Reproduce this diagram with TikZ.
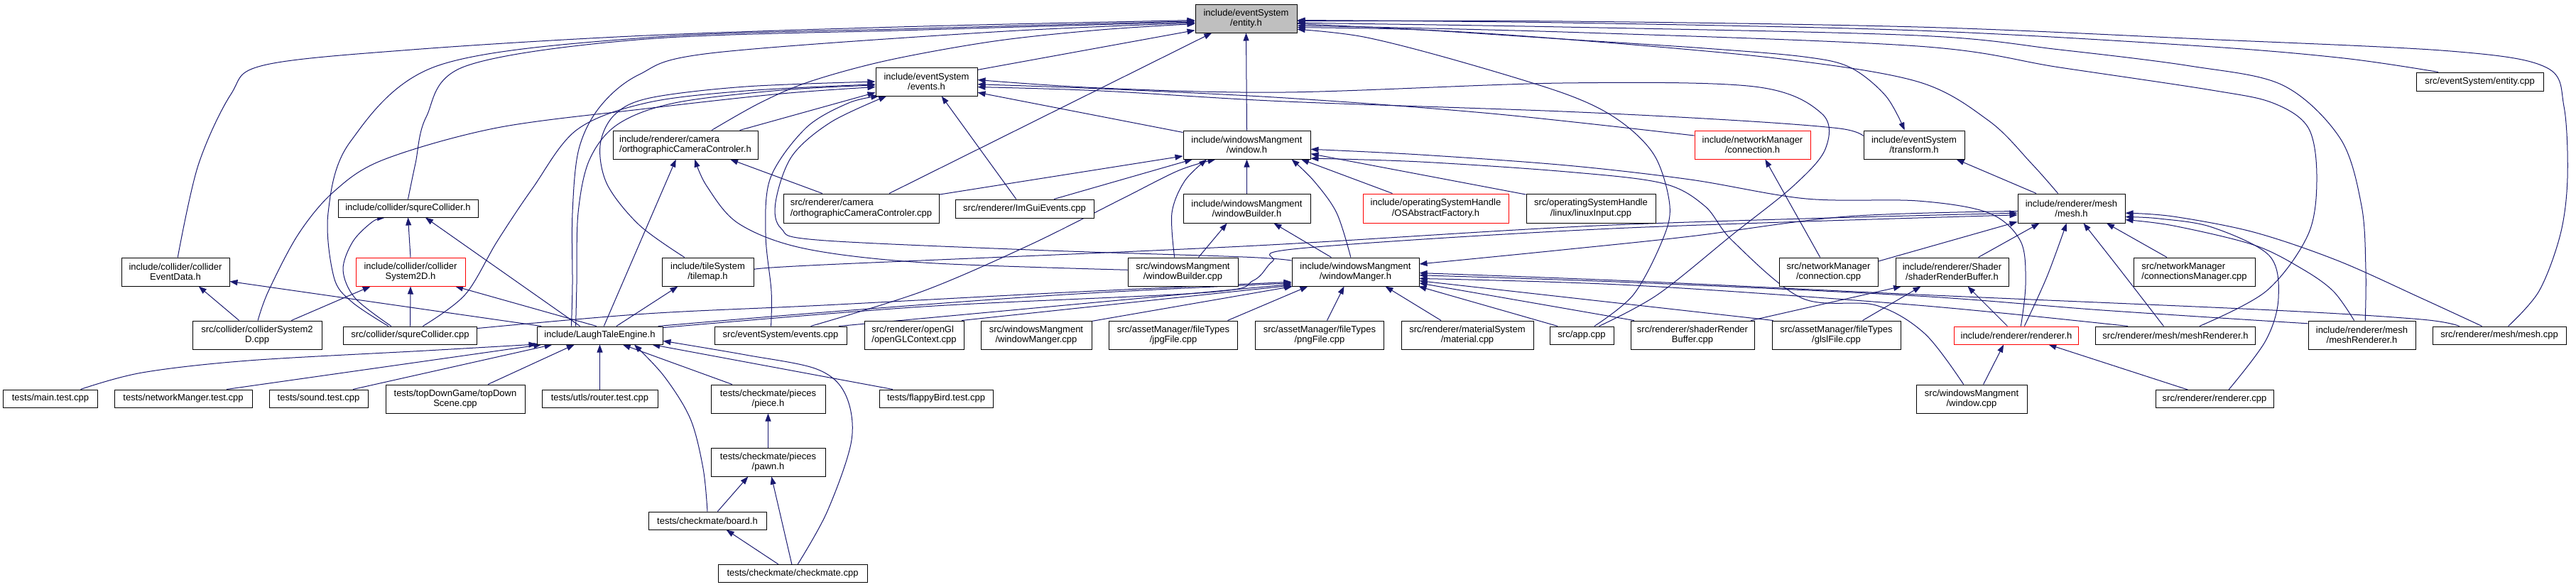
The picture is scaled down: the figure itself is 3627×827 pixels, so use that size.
\documentclass[tikz,border=0pt]{standalone}
\usepackage{fontspec}
\setmainfont{Liberation Sans}
\usetikzlibrary{arrows.meta}
\pgfdeclarelayer{bg}
\pgfsetlayers{bg,main}
\definecolor{edgecol}{RGB}{25,25,112}
\definecolor{rootgrey}{RGB}{191,191,191}
\newcommand\nfnt{\fontsize{13}{14.3}\selectfont}
\begin{document}
\begin{tikzpicture}[x=1pt,y=-1pt,
  fb/.style={draw=black, line width=1pt, fill=white, inner sep=0pt, align=center, font=\nfnt},
  fbl/.style={fb, align=left},
  rb/.style={fb, draw=red},
  root/.style={fb, fill=rootgrey},
  bx/.style 2 args={minimum width=#1pt, minimum height=#2pt},
  ed/.style={draw=edgecol, line width=1pt, -{Triangle[length=11pt,width=8pt]}},
  sm/.style={smooth, tension=0.55}]
\useasboundingbox (0,0) rectangle (3627,827);
% ---------- nodes ----------
\node[root, bx={143}{40}] (entity) at (1754.5,26) {include/eventSystem\\/entity.h};
\node[fb, bx={143}{40}] (events) at (1304.5,115) {include/eventSystem\\/events.h};
\node[fbl, bx={204}{40}] (orthoH) at (965,204) {include/renderer/camera\\/orthographicCameraControler.h};
\node[fb, bx={179}{40}] (windowH) at (1755.5,204) {include/windowsMangment\\/window.h};
\node[rb, bx={163}{40}] (connH) at (2467.5,204) {include/networkManager\\/connection.h};
\node[fb, bx={142}{40}] (transH) at (2695,204) {include/eventSystem\\/transform.h};
\node[fb, bx={179}{26}] (entCpp) at (3491.5,115) {src/eventSystem/entity.cpp};
\node[fb, bx={197}{25}] (sqH) at (574.5,293.5) {include/collider/squreCollider.h};
\node[fbl, bx={219}{41}] (orthoCpp) at (1212.5,293.5) {src/renderer/camera\\/orthographicCameraControler.cpp};
\node[fb, bx={195}{26}] (imgui) at (1442.5,294) {src/renderer/ImGuiEvents.cpp};
\node[fb, bx={179}{41}] (wbH) at (1755.5,293.5) {include/windowsMangment\\/windowBuilder.h};
\node[rb, bx={205}{41}] (osabs) at (2021.5,293.5) {include/operatingSystemHandle\\/OSAbstractFactory.h};
\node[fb, bx={182}{41}] (linux) at (2240,293.5) {src/operatingSystemHandle\\/linux/linuxInput.cpp};
\node[fb, bx={151}{41}] (meshH) at (2916.5,293.5) {include/renderer/mesh\\/mesh.h};
\node[fb, bx={152}{40}] (colED) at (247,383) {include/collider/collider\\EventData.h};
\node[rb, bx={154}{40}] (cs2dH) at (578,383) {include/collider/collider\\System2D.h};
\node[fb, bx={129}{40}] (tilemap) at (996.5,383) {include/tileSystem\\/tilemap.h};
\node[fb, bx={155}{40}] (wbCpp) at (1665.5,383) {src/windowsMangment\\/windowBuilder.cpp};
\node[fb, bx={179}{40}] (wmH) at (1908.5,383) {include/windowsMangment\\/windowManger.h};
\node[fb, bx={139}{40}] (connCpp) at (2574.5,383) {src/networkManager\\/connection.cpp};
\node[fb, bx={159}{40}] (srbH) at (2748.5,383) {include/renderer/Shader\\/shaderRenderBuffer.h};
\node[fbl, bx={171}{40}] (connMgr) at (3089.5,383) {src/networkManager\\/connectionsManager.cpp};
\node[fb, bx={182}{40}] (cs2dCpp) at (362,472) {src/collider/colliderSystem2\\D.cpp};
\node[fb, bx={188}{25}] (sqCpp) at (577.5,472.5) {src/collider/squreCollider.cpp};
\node[fb, bx={177}{25}] (lte) at (844.5,472.5) {include/LaughTaleEngine.h};
\node[fb, bx={186}{25}] (evCpp) at (1099,472.5) {src/eventSystem/events.cpp};
\node[fbl, bx={140}{40}] (opengl) at (1287,472) {src/renderer/openGl\\/openGLContext.cpp};
\node[fb, bx={156}{40}] (wmCpp) at (1459,472) {src/windowsMangment\\/windowManger.cpp};
\node[fb, bx={181}{40}] (jpg) at (1652,472) {src/assetManager/fileTypes\\/jpgFile.cpp};
\node[fb, bx={181}{40}] (png) at (1858,472) {src/assetManager/fileTypes\\/pngFile.cpp};
\node[fb, bx={186}{40}] (material) at (2066,472) {src/renderer/materialSystem\\/material.cpp};
\node[fb, bx={90}{25}] (app) at (2227,472.5) {src/app.cpp};
\node[fb, bx={174}{40}] (srbCpp) at (2383,472) {src/renderer/shaderRender\\Buffer.cpp};
\node[fb, bx={181}{40}] (glsl) at (2585.5,472) {src/assetManager/fileTypes\\/glslFile.cpp};
\node[rb, bx={175}{25}] (rendH) at (2839,472.5) {include/renderer/renderer.h};
\node[fb, bx={225}{25}] (mrSrc) at (3063,472.5) {src/renderer/mesh/meshRenderer.h};
\node[fb, bx={151}{40}] (mrH) at (3325.5,472) {include/renderer/mesh\\/meshRenderer.h};
\node[fb, bx={188}{25}] (meshCpp) at (3519,472.5) {src/renderer/mesh/mesh.cpp};
\node[fb, bx={133}{25}] (mainT) at (71,561.5) {tests/main.test.cpp};
\node[fb, bx={194}{25}] (netT) at (258,561.5) {tests/networkManger.test.cpp};
\node[fb, bx={139}{25}] (soundT) at (448.5,561.5) {tests/sound.test.cpp};
\node[fb, bx={196}{40}] (topDown) at (641,562) {tests/topDownGame/topDown\\Scene.cpp};
\node[fb, bx={163}{25}] (router) at (844.5,561.5) {tests/utls/router.test.cpp};
\node[fb, bx={161}{40}] (piece) at (1081.5,562) {tests/checkmate/pieces\\/piece.h};
\node[fb, bx={160}{25}] (flappy) at (1318,561.5) {tests/flappyBird.test.cpp};
\node[fb, bx={156}{40}] (winCpp) at (2776,562) {src/windowsMangment\\/window.cpp};
\node[fb, bx={166}{25}] (rendCpp) at (3118,562) {src/renderer/renderer.cpp};
\node[fb, bx={161}{40}] (pawn) at (1081.5,651) {tests/checkmate/pieces\\/pawn.h};
\node[fb, bx={166}{25}] (board) at (996,733.5) {tests/checkmate/board.h};
\node[fb, bx={210}{25}] (checkmate) at (1116,808) {tests/checkmate/checkmate.cpp};
% ---------- edges ----------
\begin{pgfonlayer}{bg}
\fill[white] (0,0) rectangle (3627,827);
% into entity.h
\draw[ed] plot[sm] coordinates {(colED.81) (279,233) (325,133) (371,92) (580,70) (910,50) (1300,37) (entity.182)};
\draw[ed] plot[sm] coordinates {(sqCpp.157) (495,425) (470,390) (462,300) (493,200) (615,93) (910,53) (1300,40) (entity.183)};
\draw[ed] plot[sm] coordinates {(sqH.north) (585,230) (600,165) (656,93) (910,55) (1300,42) (entity.184)};
\draw[ed] plot[sm] coordinates {(lte.162) (806,400) (806,300) (815,210) (845,150) (900,105) (1000,75) (1400,45) (entity.185)};
\draw[ed] plot[sm] coordinates {(orthoH.29) (1070,145) (1140,115) (1250,85) (1400,58) (1550,42) (entity.186)};
\draw[ed] (events.13) -- (entity.193);
\draw[ed] (orthoCpp.28) -- (entity.203);
\draw[ed] (windowH.north) -- (entity.south);
\draw[ed] plot[sm] coordinates {(entCpp.167) (3300,82) (3100,65) (2700,43) (2200,32) (entity.358)};
\draw[ed] plot[sm] coordinates {(meshCpp.46) (3575,410) (3605,330) (3615,250) (3610,150) (3585,95) (3450,72) (3100,55) (2700,38) (2200,30) (entity.357)};
\draw[ed] plot[sm] coordinates {(mrH.77) (3331,380) (3325,290) (3295,195) (3214,120) (3084,93) (2900,70) (2700,50) (2200,38) (entity.355)};
\draw[ed] plot[sm] coordinates {(mrSrc.21) (3191,410) (3250,330) (3262,250) (3250,180) (3200,145) (3114,127) (2900,95) (2700,65) (2200,45) (entity.352)};
\draw[ed] plot[sm] coordinates {(meshH.132) (2860,230) (2800,170) (2700,115) (2500,82) (2200,55) (2000,42) (entity.350)};
\draw[ed] plot[sm] coordinates {(app.36) (2300,415) (2340,340) (2351,290) (2330,220) (2280,170) (2206,133) (2050,85) (1920,52) (entity.348)};
\draw[ed] plot[sm] coordinates {(entity.354) (2000,42) (2200,55) (2400,68) (2540,80) (2605,95) (2655,135) (transH.123)};
% into events.h
\draw[ed] plot[sm] coordinates {(lte.159) (812,400) (814,300) (830,225) (870,175) (950,145) (1100,127) (events.184)};
\draw[ed] plot[sm] coordinates {(cs2dCpp.87) (378,410) (420,330) (470,270) (540,225) (700,180) (910,153) (1100,132) (events.186)};
\draw[ed] plot[sm] coordinates {(sqCpp.36) (655,415) (700,340) (750,265) (812,183) (910,145) (1050,128) (events.183)};
\draw[ed] plot[sm] coordinates {(tilemap.148) (900,317) (855,260) (845,205) (865,162) (915,138) (1050,122) (events.180)};
\draw[ed] (orthoH.15) -- (events.192);
\draw[ed] plot[sm] coordinates {(evCpp.136) (1086,410) (1078,330) (1085,250) (1135,180) (1195,145) (events.197)};
\draw[ed] plot[sm] coordinates {(wmH.170) (1750,362) (1450,352) (1150,338) (1100,322) (1092,285) (1115,220) (1170,172) (events.200)};
\draw[ed] (imgui.131) -- (events.316);
\draw[ed] (windowH.169) -- (events.348);
\draw[ed] plot[sm] coordinates {(connH.171) (2100,160) (1810,138) (1550,125) (events.357)};
\draw[ed] plot[sm] coordinates {(transH.170) (2590,181) (2450,170) (2200,157) (1810,143) (1550,128) (events.354)};
\draw[ed] plot[sm] coordinates {(app.28) (2334,415) (2440,330) (2525,262) (2570,210) (2565,160) (2470,122) (2200,117) (1810,130) (1550,124) (events.2)};
% into orthographicCameraControler.h
\draw[ed] (orthoCpp.159) -- (orthoH.342);
\draw[ed] (lte.66) -- (orthoH.237);
\draw[ed] plot[sm] coordinates {(wbCpp.178) (1300,370) (1132,350) (1040,315) (995,262) (orthoH.303)};
% into window.h
\draw[ed] (orthoCpp.10) -- (windowH.190);
\draw[ed] (imgui.18) -- (windowH.195);
\draw[ed] (wbH.north) -- (windowH.south);
\draw[ed] plot[sm] coordinates {(wbCpp.120) (1650,300) (1668,255) (windowH.200)};
\draw[ed] plot[sm] coordinates {(evCpp.17) (1300,410) (1450,345) (1580,280) (1660,240) (windowH.205)};
\draw[ed] plot[sm] coordinates {(wmH.108) (1882,300) (1850,255) (windowH.342)};
\draw[ed] (osabs.161) -- (windowH.345);
\draw[ed] (linux.168) -- (windowH.352);
\draw[ed] plot[sm] coordinates {(rendH.64) (2852,400) (2845,340) (2800,300) (2700,283) (2543,280) (2380,253) (2206,233) (2000,218) (windowH.356)};
\draw[ed] plot[sm] coordinates {(winCpp.119) (2710,470) (2641,430) (2537,420) (2440,340) (2400,290) (2340,258) (2206,242) (2000,228) (windowH.348)};
% collider headers
\draw[ed] (cs2dH.north) -- (sqH.south);
\draw[ed] plot[sm] coordinates {(sqCpp.154) (500,420) (483,380) (497,340) (525,312) (sqH.202)};
\draw[ed] (lte.155) -- (sqH.332);
\draw[ed] (cs2dCpp.23) -- (cs2dH.200);
\draw[ed] (sqCpp.north) -- (cs2dH.south);
\draw[ed] (lte.110) -- (cs2dH.342);
\draw[ed] (cs2dCpp.141) -- (colED.328);
\draw[ed] (lte.171) -- (colED.350);
\draw[ed] (lte.29) -- (tilemap.206);
% windowBuilder.h
\draw[ed] (wbCpp.43) -- (wbH.217);
\draw[ed] (wmH.149) -- (wbH.331);
% into windowManger.h
\draw[ed] plot[sm] coordinates {(lte.9) (1160,440) (1500,415) (wmH.190)};
\draw[ed] plot[sm] coordinates {(sqCpp.6) (910,442) (1160,430) (1500,412) (wmH.189)};
\draw[ed] (evCpp.9) -- (wmH.191);
\draw[ed] (opengl.17) -- (wmH.192);
\draw[ed] (wmCpp.14) -- (wmH.193);
\draw[ed] (jpg.15) -- (wmH.197);
\draw[ed] (png.63) -- (wmH.232);
\draw[ed] (material.151) -- (wmH.334);
\draw[ed] (app.159) -- (wmH.347);
\draw[ed] (srbCpp.166) -- (wmH.350);
\draw[ed] (glsl.167) -- (wmH.352);
\draw[ed] plot[sm] coordinates {(mrSrc.169) (2700,430) (2300,402) (wmH.354)};
\draw[ed] plot[sm] coordinates {(mrH.168) (2960,437) (2700,417) (2300,398) (wmH.357)};
\draw[ed] plot[sm] coordinates {(meshCpp.167) (3409,450) (3200,437) (2700,415) (2300,396) (wmH.359)};
\draw[ed] plot[sm] coordinates {(meshH.183) (2600,305) (2380,333) (2200,352) (2060,366) (wmH.7)};
% into mesh.h
\draw[ed] plot[sm] coordinates {(tilemap.3) (1160,373) (1750,347) (2270,317) (meshH.185)};
\draw[ed] plot[sm] coordinates {(lte.7) (1300,432) (1700,412) (1765,395) (1792,368) (1830,350) (2270,322) (meshH.187)};
\draw[ed] (connCpp.12) -- (meshH.194);
\draw[ed] (srbH.29) -- (meshH.205);
\draw[ed] plot[sm] coordinates {(rendH.49) (2882,390) (meshH.252)};
\draw[ed] plot[sm] coordinates {(mrSrc.142) (2985,380) (meshH.309)};
\draw[ed] (connMgr.152) -- (meshH.337);
\draw[ed] plot[sm] coordinates {(meshCpp.152) (3409,420) (3291,367) (3173,327) (3060,305) (meshH.355)};
\draw[ed] plot[sm] coordinates {(rendCpp.33) (3190,480) (3208,420) (3195,360) (3114,320) (3040,308) (meshH.351)};
\draw[ed] plot[sm] coordinates {(mrH.118) (3285,410) (3240,378) (3173,345) (3060,318) (meshH.348)};
% other headers
\draw[ed] (meshH.157) -- (transH.341);
\draw[ed] (connCpp.120) -- (connH.311);
\draw[ed] (srbCpp.14) -- (srbH.196);
\draw[ed] (glsl.29) -- (srbH.205);
\draw[ed] (rendH.134) -- (srbH.317);
\draw[ed] (winCpp.51) -- (rendH.216);
\draw[ed] (rendCpp.161) -- (rendH.344);
% into LaughTaleEngine.h
\draw[ed] plot[sm] coordinates {(mainT.17) (200,525) (350,508) (600,494) (lte.188)};
\draw[ed] (netT.12) -- (lte.189);
\draw[ed] (soundT.15) -- (lte.191);
\draw[ed] (topDown.24) -- (lte.200);
\draw[ed] (router.north) -- (lte.south);
\draw[ed] (piece.158) -- (lte.338);
\draw[ed] plot[sm] coordinates {(board.north) (990,660) (972,590) (935,530) (lte.345)};
\draw[ed] (flappy.168) -- (lte.350);
\draw[ed] plot[sm] coordinates {(checkmate.61) (1165,720) (1199,620) (1190,555) (1150,520) (1050,500) (lte.355)};
% checkmate tests
\draw[ed] (pawn.north) -- (piece.south);
\draw[ed] (board.42) -- (pawn.216);
\draw[ed] (checkmate.95) -- (pawn.283);
\draw[ed] (checkmate.147) -- (board.334);
\end{pgfonlayer}
\end{tikzpicture}
\end{document}
